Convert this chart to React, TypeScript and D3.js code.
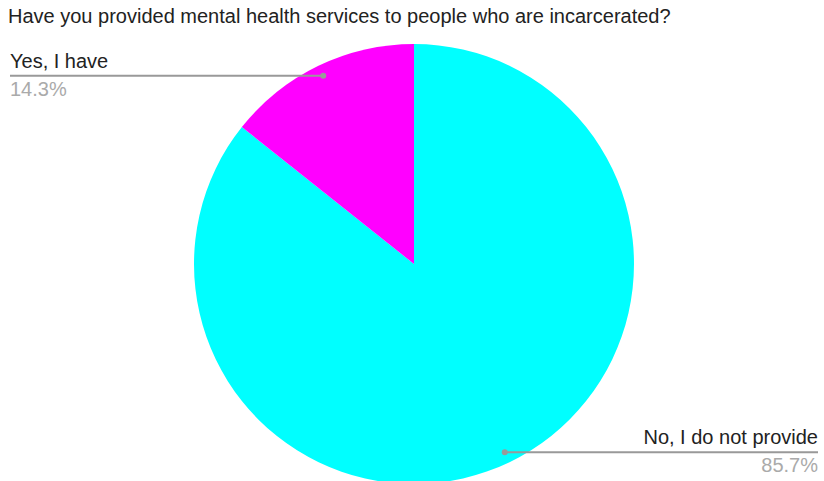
import React from "react";
import * as d3 from "d3";

const categories = ["No, I do not provide", "Yes, I have"];
const values = [85.7, 14.3];
const colors = ["#00ffff", "#ff00ff"];
const title = "Have you provided mental health services to people who are incarcerated?";

export default function App() {
  const W = 824, H = 481;
  const cx = 414, cy = 264, r = 220;
  const pie = d3.pie<number>().sort(null).value((d) => d)(values);
  const arc = d3.arc<d3.PieArcDatum<number>>().innerRadius(0).outerRadius(r);
  const font = "Arial, 'Liberation Sans', sans-serif";
  const fs = 20;
  const yesArc = pie[1];
  const noArc = pie[0];
  const labelArc = d3.arc<d3.PieArcDatum<number>>().innerRadius(r * 0.95).outerRadius(r * 0.95);
  const [yx, yy] = labelArc.centroid(yesArc);
  const [nx, ny] = labelArc.centroid(noArc);
  return (
    <svg width={W} height={H} style={{ position: "absolute", left: 0, top: 0, background: "#fff" }}>
      <text x={8} y={23} fontFamily={font} fontSize={fs} fill="#222">{title}</text>
      <g transform={`translate(${cx},${cy})`}>
        {pie.map((p, i) => (
          <path key={i} d={arc(p) || ""} fill={colors[i]} />
        ))}
      </g>
      {/* Yes label */}
      <line x1={10} x2={cx + yx} y1={cy + yy} y2={cy + yy} stroke="#999" strokeWidth={2} />
      <circle cx={cx + yx} cy={cy + yy} r={3} fill="#999" />
      <text x={10} y={68} fontFamily={font} fontSize={fs} fill="#222">{categories[1]}</text>
      <text x={10} y={96} fontFamily={font} fontSize={fs} fill="#aaa">{values[1].toFixed(1)}%</text>
      {/* No label */}
      <line x1={cx + nx} x2={818} y1={cy + ny} y2={cy + ny} stroke="#999" strokeWidth={2} />
      <circle cx={cx + nx} cy={cy + ny} r={3} fill="#999" />
      <text x={818} y={444} textAnchor="end" fontFamily={font} fontSize={fs} fill="#222">{categories[0]}</text>
      <text x={818} y={472} textAnchor="end" fontFamily={font} fontSize={fs} fill="#aaa">{values[0].toFixed(1)}%</text>
    </svg>
  );
}
